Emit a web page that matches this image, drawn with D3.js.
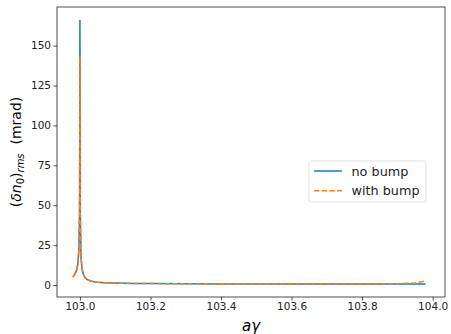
<!DOCTYPE html>
<html>
<head>
<meta charset="utf-8">
<script src="https://cdn.jsdelivr.net/npm/d3@7"></script>
<style>
  body { margin: 0; background: #fff; }
  svg { font-family: 'DejaVu Sans', sans-serif; }
</style>
</head>
<body>
<div id="chart"></div>
<script>
// data
var aGamma = [102.98, 102.985, 102.99, 102.994, 102.997, 102.999, 103.0, 103.001, 103.003,
  103.006, 103.01, 103.015, 103.02, 103.03, 103.04, 103.05, 103.07, 103.1, 103.15, 103.2,
  103.3, 103.4, 103.5, 103.6, 103.7, 103.8, 103.9, 103.95, 103.98];
var noBump = [5, 6.5, 9, 13, 22, 45, 166, 45, 18, 10, 6.5, 4.5, 3.5, 2.5, 2, 1.7, 1.4,
  1.2, 1.0, 0.9, 0.8, 0.7, 0.65, 0.6, 0.6, 0.6, 0.6, 0.6, 0.6];
var withBump = [5, 6.5, 9, 13, 22, 45, 143, 45, 18, 10, 6.5, 4.5, 3.5, 2.5, 2, 1.7, 1.4,
  1.2, 1.0, 0.9, 0.8, 0.7, 0.65, 0.6, 0.6, 0.65, 0.8, 1.3, 2.5];
var xTicks = [103.0, 103.2, 103.4, 103.6, 103.8, 104.0];
var yTicks = [0, 25, 50, 75, 100, 125, 150];
var seriesNames = ['no bump', 'with bump'];

var svg = d3.select('#chart').append('svg')
    .attr('width', 451)
    .attr('height', 334),
  margin = { top: 7, right: 6, bottom: 37, left: 57 },
  width = 451 - margin.left - margin.right,
  height = 334 - margin.top - margin.bottom,
  g = svg.append('g')
    .attr('transform', 'translate(' + margin.left + ',' + margin.top + ')');

var x = d3.scaleLinear().domain([102.935, 104.035]).range([0, width]);
var y = d3.scaleLinear().domain([-7.5, 174.2]).range([height, 0]);

var xAxis = g.append('g')
  .attr('transform', 'translate(0,' + height + ')')
  .call(d3.axisBottom(x).tickValues(xTicks).tickFormat(d3.format('.1f')).tickSizeOuter(0).tickSize(3.5));
var yAxis = g.append('g')
  .call(d3.axisLeft(y).tickValues(yTicks).tickSizeOuter(0).tickSize(3.5));

[xAxis, yAxis].forEach(function (a) {
  a.select('.domain').remove();
  a.selectAll('text').style('font-size', '10.5px').attr('fill', '#222')
    .style('font-family', "'DejaVu Sans', sans-serif");
  a.selectAll('line').attr('stroke', '#222').attr('stroke-width', 0.8);
});
yAxis.selectAll('text').attr('x', -6);
xAxis.selectAll('text').attr('y', 6);

var line = function (vals) {
  return d3.line()
    .x(function (d, i) { return x(aGamma[i]); })
    .y(function (d) { return y(d); })(vals);
};

g.append('path')
  .attr('d', line(noBump))
  .attr('fill', 'none')
  .attr('stroke', '#1f77b4')
  .attr('stroke-width', 1.5);

g.append('path')
  .attr('d', line(withBump))
  .attr('fill', 'none')
  .attr('stroke', '#ff7f0e')
  .attr('stroke-width', 1.5)
  .attr('stroke-dasharray', '5.4,2.3');

// frame
g.append('rect')
  .attr('width', width)
  .attr('height', height)
  .attr('fill', 'none')
  .attr('stroke', '#222')
  .attr('stroke-width', 0.8);

// axis labels
svg.append('text')
  .attr('x', margin.left + width / 2)
  .attr('y', 331)
  .attr('text-anchor', 'middle')
  .style('font-size', '15px')
  .style('font-style', 'italic')
  .text('aγ');

var yl = svg.append('text')
  .attr('transform', 'translate(21,' + (margin.top + height / 2) + ') rotate(-90)')
  .attr('text-anchor', 'middle')
  .style('font-size', '14px');
yl.append('tspan').text('(');
yl.append('tspan').style('font-style', 'italic').text('δn');
yl.append('tspan').attr('dy', 3).style('font-size', '10px').text('0');
yl.append('tspan').attr('dy', -3).text(')');
yl.append('tspan').attr('dy', 3).style('font-size', '10px').style('font-style', 'italic').text('rms');
yl.append('tspan').attr('dy', -3).text('\u00a0\u00a0(mrad)');

// legend
var lg = svg.append('g').attr('transform', 'translate(309,161)');
lg.append('rect')
  .attr('width', 117)
  .attr('height', 41)
  .attr('rx', 2.5)
  .attr('fill', 'white')
  .attr('fill-opacity', 0.8)
  .attr('stroke', '#d9d9d9')
  .attr('stroke-width', 0.8);
var colors = ['#1f77b4', '#ff7f0e'];
seriesNames.forEach(function (name, i) {
  var cy = 10 + i * 19.7;
  lg.append('line')
    .attr('x1', 5).attr('x2', 33)
    .attr('y1', cy).attr('y2', cy)
    .attr('stroke', colors[i])
    .attr('stroke-width', 1.5)
    .attr('stroke-dasharray', i === 1 ? '5.4,2.3' : null);
  lg.append('text')
    .attr('x', 42.5)
    .attr('y', cy + 4.5)
    .style('font-size', '12.8px')
    .attr('fill', '#222')
    .text(name);
});
</script>
</body>
</html>
